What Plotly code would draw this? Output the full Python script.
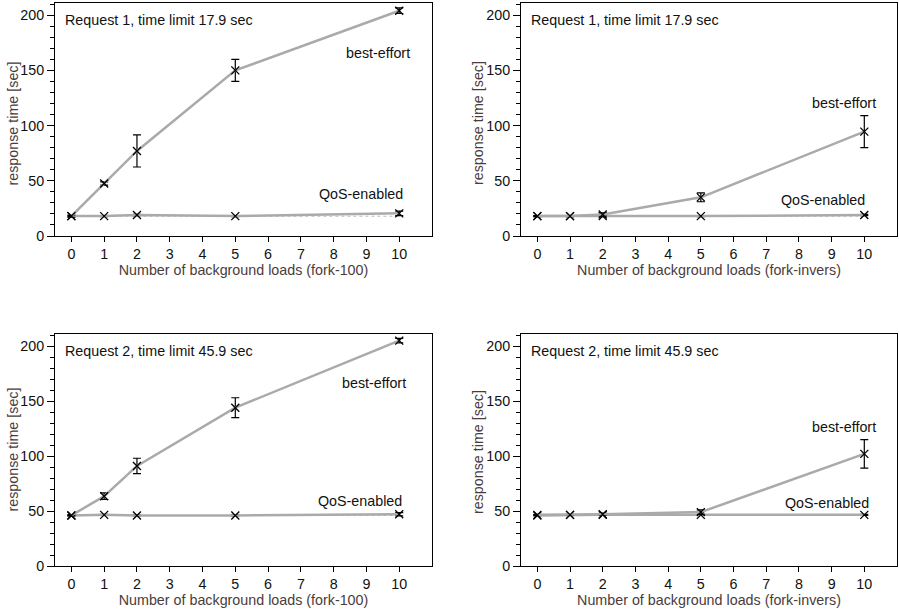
import plotly.graph_objects as go

loads = [0, 1, 2, 5, 10]

# Request 1, fork-100
r1_f100_be = [18, 47.5, 77, 150, 204]
r1_f100_be_err = [1, 1.5, 14.5, 10, 2.5]
r1_f100_qos = [18, 18, 19, 18, 20.5]
r1_f100_qos_err = [0.5, 0.5, 0.5, 0.5, 2]

# Request 1, fork-invers
r1_finv_be = [18, 18, 19.5, 35, 94.5]
r1_finv_be_err = [0.5, 0.5, 1.5, 4, 14.5]
r1_finv_qos = [18, 18, 18, 18, 19]
r1_finv_qos_err = [0.5, 0.5, 0.5, 0.5, 0.5]

# Request 2, fork-100
r2_f100_be = [46, 63.5, 91, 144, 205]
r2_f100_be_err = [0.5, 3, 7, 9, 2]
r2_f100_qos = [46, 46.5, 46, 46, 47]
r2_f100_qos_err = [0.5, 0.5, 0.5, 0.5, 1.5]

# Request 2, fork-invers
r2_finv_be = [46.5, 46.5, 47, 49, 102]
r2_finv_be_err = [0.5, 0.5, 1, 2, 13]
r2_finv_qos = [46, 46.5, 46.5, 46.5, 46.5]
r2_finv_qos_err = [0.5, 0.5, 0.5, 0.5, 0.5]

time_limits = [17.9, 17.9, 45.9, 45.9]
panel_titles = ["Request 1, time limit 17.9 sec", "Request 1, time limit 17.9 sec",
                "Request 2, time limit 45.9 sec", "Request 2, time limit 45.9 sec"]
x_titles = ["Number of background loads (fork-100)", "Number of background loads (fork-invers)",
            "Number of background loads (fork-100)", "Number of background loads (fork-invers)"]
y_title = "response time [sec]"
label_be = "best-effort"
label_qos = "QoS-enabled"
x_tick_vals = list(range(0, 11))
y_tick_vals = [0, 50, 100, 150, 200]

panels = [
    (r1_f100_be, r1_f100_be_err, r1_f100_qos, r1_f100_qos_err),
    (r1_finv_be, r1_finv_be_err, r1_finv_qos, r1_finv_qos_err),
    (r2_f100_be, r2_f100_be_err, r2_f100_qos, r2_f100_qos_err),
    (r2_finv_be, r2_finv_be_err, r2_finv_qos, r2_finv_qos_err),
]

# label positions (x right edge, y center) per panel
be_label_pos = [(10.4, 166), (10.42, 120), (10.27, 166.5), (10.42, 126)]
qos_label_pos = [(10.18, 38), (10.08, 32.5), (10.15, 59.5), (10.2, 57.5)]

W, H = 899, 610
xdomains = [[55 / W, 432 / W], [521 / W, 897 / W]]
ydomains = [[1 - 236 / H, 1 - 3 / H], [1 - 566 / H, 1 - 334 / H]]
# y-title centre positions (px) per panel
ytitle_px = [(12, 123.5), (478, 123), (12, 449.5), (478, 452)]

FONT = "Liberation Sans, Arial, sans-serif"
FS = 14.3
GREY = "#aaaaaa"
TITLE_COL = "#4a3c3c"

fig = go.Figure()
layout = dict(
    width=W, height=H,
    margin=dict(l=0, r=0, t=0, b=0),
    paper_bgcolor="white", plot_bgcolor="white",
    showlegend=False,
    font=dict(family=FONT, size=FS, color="#111111"),
)
annotations = []

for i, (be, be_err, qos, qos_err) in enumerate(panels):
    n = i + 1
    xa = "x" if n == 1 else f"x{n}"
    ya = "y" if n == 1 else f"y{n}"
    row, col = divmod(i, 2)
    lim = time_limits[i]
    # time limit dotted line
    fig.add_trace(go.Scatter(
        x=[loads[0], loads[-1]], y=[lim, lim], mode="lines",
        line=dict(color="#bbbbbb", width=1, dash="dot"),
        xaxis=xa, yaxis=ya, hoverinfo="skip"))
    fig.add_trace(go.Scatter(
        x=loads, y=qos, mode="lines+markers",
        line=dict(color=GREY, width=2.5),
        marker=dict(symbol="x-thin-open", size=8, color="black",
                    line=dict(color="black", width=1.3)),
        error_y=dict(type="data", array=qos_err, color="black", thickness=1.2, width=4),
        xaxis=xa, yaxis=ya))
    fig.add_trace(go.Scatter(
        x=loads, y=be, mode="lines+markers",
        line=dict(color=GREY, width=2.5),
        marker=dict(symbol="x-thin-open", size=8, color="black",
                    line=dict(color="black", width=1.3)),
        error_y=dict(type="data", array=be_err, color="black", thickness=1.2, width=4),
        xaxis=xa, yaxis=ya))

    xkey = "xaxis" if n == 1 else f"xaxis{n}"
    ykey = "yaxis" if n == 1 else f"yaxis{n}"
    layout[xkey] = dict(
        domain=xdomains[col], anchor=ya, range=[-0.5, 11], automargin=False,
        tickvals=x_tick_vals, ticks="outside", ticklen=5, tickwidth=1, tickcolor="black",
        showline=True, linecolor="black", linewidth=1, mirror=True,
        showgrid=False, zeroline=False,
        tickfont=dict(size=FS, color="#111111"),
        title=dict(text=x_titles[i], font=dict(size=FS, color=TITLE_COL), standoff=2),
    )
    layout[ykey] = dict(
        domain=ydomains[row], anchor=xa, range=[0, 211], automargin=False,
        tickvals=y_tick_vals, ticks="outside", ticklen=7, tickwidth=1, tickcolor="black",
        minor=dict(dtick=10, ticks="outside", ticklen=4, tickwidth=1, tickcolor="black"),
        showline=True, linecolor="black", linewidth=1, mirror=True,
        showgrid=False, zeroline=False,
        tickfont=dict(size=FS, color="#111111"),
    )
    tx, ty = ytitle_px[i]
    annotations.append(dict(
        x=tx / W, y=1 - ty / H, xref="paper", yref="paper",
        text=y_title, textangle=-90, showarrow=False,
        xanchor="center", yanchor="middle",
        font=dict(size=FS, color=TITLE_COL)))
    annotations.append(dict(
        x=0.021, y=0.925, xref=f"{xa} domain", yref=f"{ya} domain",
        text=panel_titles[i], showarrow=False, xanchor="left", yanchor="middle",
        font=dict(size=FS, color="#111111")))
    annotations.append(dict(
        x=be_label_pos[i][0], y=be_label_pos[i][1], xref=xa, yref=ya,
        text=label_be, showarrow=False, xanchor="right", yanchor="middle",
        font=dict(size=FS, color="#111111")))
    annotations.append(dict(
        x=qos_label_pos[i][0], y=qos_label_pos[i][1], xref=xa, yref=ya,
        text=label_qos, showarrow=False, xanchor="right", yanchor="middle",
        font=dict(size=FS, color="#111111")))

layout["annotations"] = annotations
fig.update_layout(**layout)
fig.write_html(
    "out.html",
    config={"displayModeBar": False},
    post_script="document.body.style.margin='0';document.body.style.padding='0';"
                "document.body.style.overflow='hidden';",
)
